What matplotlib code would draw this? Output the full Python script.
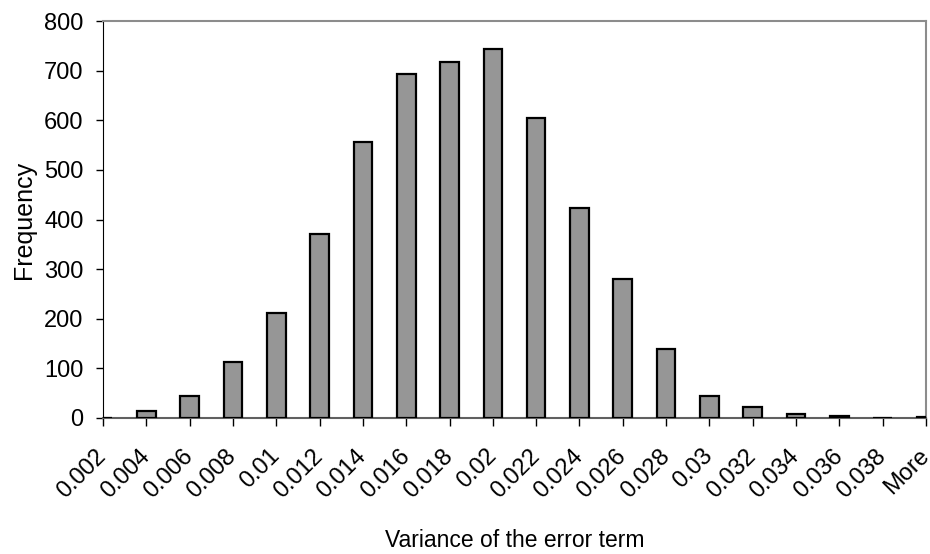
import matplotlib
matplotlib.use('Agg')
import matplotlib.pyplot as plt
import numpy as np

plt.rcParams['font.family'] = ['Liberation Sans', 'DejaVu Sans']

bins = ['0.002', '0.004', '0.006', '0.008', '0.01', '0.012', '0.014', '0.016',
        '0.018', '0.02', '0.022', '0.024', '0.026', '0.028', '0.03', '0.032',
        '0.034', '0.036', '0.038', 'More']
freq = [0, 15, 45, 113, 212, 370, 557, 693, 717, 744, 605, 423, 280, 140,
        45, 22, 8, 4, 0, 1]

fig = plt.figure(figsize=(9.3, 5.54), dpi=100)
ax = fig.add_axes([0.1108, 0.2455, 0.8849, 0.7165])

x = np.arange(len(bins))
ax.bar(x, freq, 0.43, color='#969696', edgecolor='black', linewidth=1.6, zorder=3)

ax.set_xlim(0, len(bins) - 1)
ax.set_ylim(0, 800)
ax.set_yticks(np.arange(0, 801, 100))
ax.set_xticks(x)
ax.set_xticklabels(bins, rotation=45, ha='right', va='center',
                   rotation_mode='anchor', fontsize=17)
ax.tick_params(axis='y', labelsize=17, direction='out', length=5, width=1, pad=9)
ax.tick_params(axis='x', direction='out', length=6, width=1, pad=19)

ax.spines['left'].set_color('black')
ax.spines['bottom'].set_color('#606060')
ax.spines['bottom'].set_linewidth(1.5)
ax.spines['top'].set_color('#8c8c8c')
ax.spines['right'].set_color('#8c8c8c')
ax.spines['top'].set_linewidth(1.5)
ax.spines['right'].set_linewidth(1.5)

ax.set_ylabel('Frequency', fontsize=18, labelpad=6)
ax.set_xlabel('Variance of the error term', fontsize=16.5, labelpad=19)

fig.savefig('out.png', dpi=100)
plt.close()
